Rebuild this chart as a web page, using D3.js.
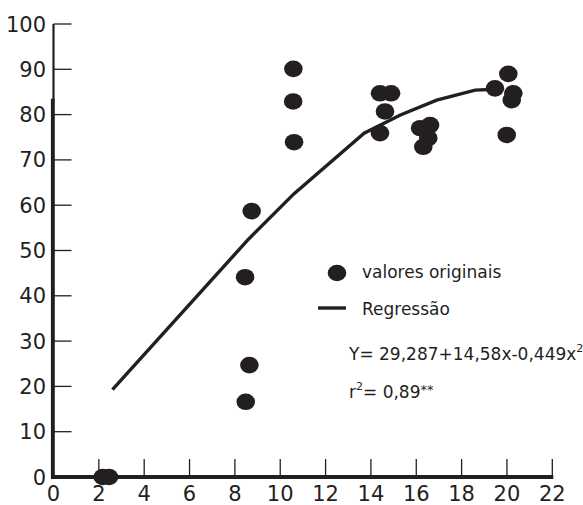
<!DOCTYPE html>
<html>
<head>
<meta charset="utf-8">
<script src="https://cdn.jsdelivr.net/npm/d3@7"></script>
<style>
  body { margin: 0; background: #fff; }
  svg { display: block; }
  text { font-family: "DejaVu Sans", sans-serif; fill: #231f20; }
</style>
</head>
<body>
<svg width="583" height="505"></svg>
<script>
// observed values (x = tempo, y = %)
var obsX = [2.17, 2.45, 8.45, 8.48, 8.64, 8.74, 10.58, 10.57, 10.61,
            14.4, 14.89, 14.62, 14.4, 16.17, 16.61, 16.53, 16.31,
            20.06, 19.47, 20.28, 20.21, 19.99];
var obsY = [0, 0, 44.1, 16.6, 24.7, 58.7, 90.1, 82.9, 73.9,
            84.7, 84.7, 80.7, 75.9, 77.0, 77.7, 74.8, 72.9,
            89.0, 85.8, 84.7, 83.2, 75.5];

// regression curve as drawn
var regX = [2.6, 8.6, 10.6, 13.7, 15.3, 16.9, 18.6, 19.5];
var regY = [19.3, 52.5, 62.5, 75.9, 79.9, 83.2, 85.4, 85.6];

var xTicks = [0, 2, 4, 6, 8, 10, 12, 14, 16, 18, 20, 22];
var yTicks = [0, 10, 20, 30, 40, 50, 60, 70, 80, 90, 100];

var svg = d3.select("svg");
var ink = "#231f20";

var x = d3.scaleLinear().domain([0, 22]).range([53.5, 552.3]);
var y = d3.scaleLinear().domain([0, 100]).range([477, 24]);

// y axis: ticks to the right, labels on the left
var yAxis = svg.append("g");
yAxis.selectAll("line.tick")
    .data(yTicks)
    .enter().append("line")
    .attr("x1", x(0)).attr("x2", x(0) + 18)
    .attr("y1", function (d) { return y(d); })
    .attr("y2", function (d) { return y(d); })
    .attr("stroke", ink).attr("stroke-width", 1.3);
yAxis.selectAll("text")
    .data(yTicks)
    .enter().append("text")
    .attr("x", 46)
    .attr("y", function (d) { return y(d); })
    .attr("dy", "0.36em")
    .attr("text-anchor", "end")
    .style("font-size", "21px")
    .text(function (d) { return d; });
// the axis line is heavier below ~83
yAxis.append("line")
    .attr("x1", x(0)).attr("x2", x(0))
    .attr("y1", y(0) + 2).attr("y2", y(100))
    .attr("stroke", ink).attr("stroke-width", 2.2);
yAxis.append("line")
    .attr("x1", x(0) - 0.8).attr("x2", x(0) - 0.8)
    .attr("y1", y(0) + 2).attr("y2", y(83.5))
    .attr("stroke", ink).attr("stroke-width", 3.6);

// x axis: ticks upwards, labels below
var xAxis = svg.append("g");
xAxis.selectAll("line.tick")
    .data(xTicks.slice(1))
    .enter().append("line")
    .attr("x1", function (d) { return x(d); })
    .attr("x2", function (d) { return x(d); })
    .attr("y1", y(0)).attr("y2", y(0) - 18)
    .attr("stroke", ink).attr("stroke-width", 1.3);
xAxis.append("line")
    .attr("x1", x(0) - 2).attr("x2", x(22) + 1)
    .attr("y1", y(0)).attr("y2", y(0))
    .attr("stroke", ink).attr("stroke-width", 4);
xAxis.selectAll("text")
    .data(xTicks)
    .enter().append("text")
    .attr("x", function (d) { return x(d); })
    .attr("y", 501)
    .attr("text-anchor", "middle")
    .style("font-size", "21px")
    .text(function (d) { return d; });

// regression line
var line = d3.line()
    .x(function (d) { return x(d[0]); })
    .y(function (d) { return y(d[1]); });
svg.append("path")
    .datum(d3.zip(regX, regY))
    .attr("d", line)
    .attr("fill", "none")
    .attr("stroke", ink)
    .attr("stroke-width", 3.4);

// observed points
svg.append("g").selectAll("ellipse")
    .data(d3.zip(obsX, obsY))
    .enter().append("ellipse")
    .attr("cx", function (d) { return x(d[0]); })
    .attr("cy", function (d) { return y(d[1]); })
    .attr("rx", 9.3).attr("ry", 8.3)
    .attr("fill", ink);

// legend
var leg = svg.append("g");
leg.append("ellipse")
    .attr("cx", 337).attr("cy", 273).attr("rx", 9.3).attr("ry", 8.3)
    .attr("fill", ink);
leg.append("text").attr("x", 362).attr("y", 278)
    .style("font-size", "17px").text("valores originais");
leg.append("line")
    .attr("x1", 318).attr("x2", 346).attr("y1", 308).attr("y2", 308)
    .attr("stroke", ink).attr("stroke-width", 3.4);
leg.append("text").attr("x", 362).attr("y", 315)
    .style("font-size", "17px").text("Regressão");

// equation and r2
var eq = leg.append("text").attr("x", 349).attr("y", 360)
    .style("font-size", "17px");
eq.append("tspan").text("Y= 29,287+14,58x-0,449x");
eq.append("tspan").attr("dy", -8).style("font-size", "11px").text("2");

var r2 = leg.append("text").attr("x", 349).attr("y", 398)
    .style("font-size", "17px");
r2.append("tspan").text("r");
r2.append("tspan").attr("dy", -8).style("font-size", "11px").text("2");
r2.append("tspan").attr("dy", 8).text("= 0,89");
r2.append("tspan").attr("dy", -4).style("font-size", "13px").text("**");
</script>
</body>
</html>
